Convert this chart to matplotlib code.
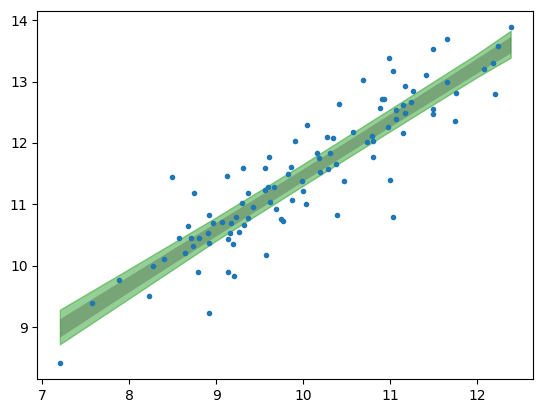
import matplotlib
matplotlib.use("Agg")
import matplotlib.pyplot as plt
import numpy as np

# scatter data
x_vals = [8.49, 8.744, 9.123, 9.307, 9.560, 9.606, 9.560, 9.594, 9.663, 9.364,
          7.203, 7.571, 7.878, 8.226, 8.272, 8.399, 8.571, 8.679, 8.637, 8.709,
          8.732, 8.801, 8.790, 8.913, 8.962, 8.905, 8.916, 8.913, 9.066, 9.169,
          9.157, 9.134, 9.192, 9.134, 9.203, 9.226, 9.261, 9.295, 9.318, 9.364,
          9.422, 9.571, 9.617, 9.686, 9.744, 9.767, 10.387, 11.031, 12.387, 11.652,
          11.491, 12.238, 10.993, 11.031, 12.180, 12.077, 11.410, 10.686, 11.652, 11.169,
          11.261, 11.755, 12.203, 10.909, 10.932, 11.246, 10.410, 11.146, 10.882, 11.066,
          11.491, 11.491, 11.169, 11.066, 11.744, 10.043, 10.974, 10.571, 11.154, 9.905,
          10.280, 10.341, 10.790, 10.732, 10.806, 10.157, 10.307, 10.180, 10.801, 9.859,
          10.376, 9.824, 10.284, 10.192, 9.985, 10.468, 10.997, 9.997, 9.870, 10.031]
y_vals = [11.44, 11.18, 11.47, 11.60, 11.60, 11.78, 11.24, 11.28, 11.28, 11.18,
          8.427, 9.40, 9.774, 9.515, 10.00, 10.115, 10.456, 10.651, 10.213, 10.456,
          10.326, 10.456, 9.904, 10.83, 10.70, 10.537, 10.375, 9.239, 10.716, 10.70,
          10.537, 10.44, 10.359, 9.904, 9.839, 10.797, 10.554, 11.024, 10.667, 10.781,
          10.959, 10.18, 11.041, 10.927, 10.765, 10.732, 10.83, 10.797, 13.88, 13.69,
          13.524, 13.573, 13.378, 13.167, 13.302, 13.20, 13.107, 13.021, 12.989, 12.924,
          12.843, 12.81, 12.794, 12.713, 12.713, 12.664, 12.631, 12.615, 12.567, 12.534,
          12.55, 12.469, 12.485, 12.388, 12.356, 12.291, 12.258, 12.177, 12.161, 12.031,
          12.096, 12.08, 12.112, 12.015, 12.031, 11.836, 11.836, 11.755, 11.771, 11.609,
          11.657, 11.495, 11.576, 11.528, 11.381, 11.381, 11.398, 11.219, 11.073, 11.008]

# band
band_x = [7.203, 8.0, 9.0, 10.0, 11.0, 12.0, 12.387]
outer_lo = [8.724, 9.47, 10.41, 11.305, 12.19, 13.07, 13.388]
outer_hi = [9.287, 9.95, 10.79, 11.655, 12.55, 13.45, 13.826]
inner_lo = [8.843, 9.58, 10.49, 11.38, 12.265, 13.14, 13.469]
inner_hi = [9.141, 9.84, 10.71, 11.58, 12.475, 13.38, 13.735]

fig = plt.figure(figsize=(5.43, 4.13), dpi=100)
ax = fig.add_axes([37.3 / 543, 33.7 / 413, 495.9 / 543, 368.6 / 413])

ax.fill_between(band_x, outer_lo, outer_hi, color="C2", alpha=0.5)
ax.fill_between(band_x, inner_lo, inner_hi, color="k", alpha=0.2, lw=0)
ax.plot(x_vals, y_vals, ".", color="C0")

fig.savefig("out.png", dpi=100)
